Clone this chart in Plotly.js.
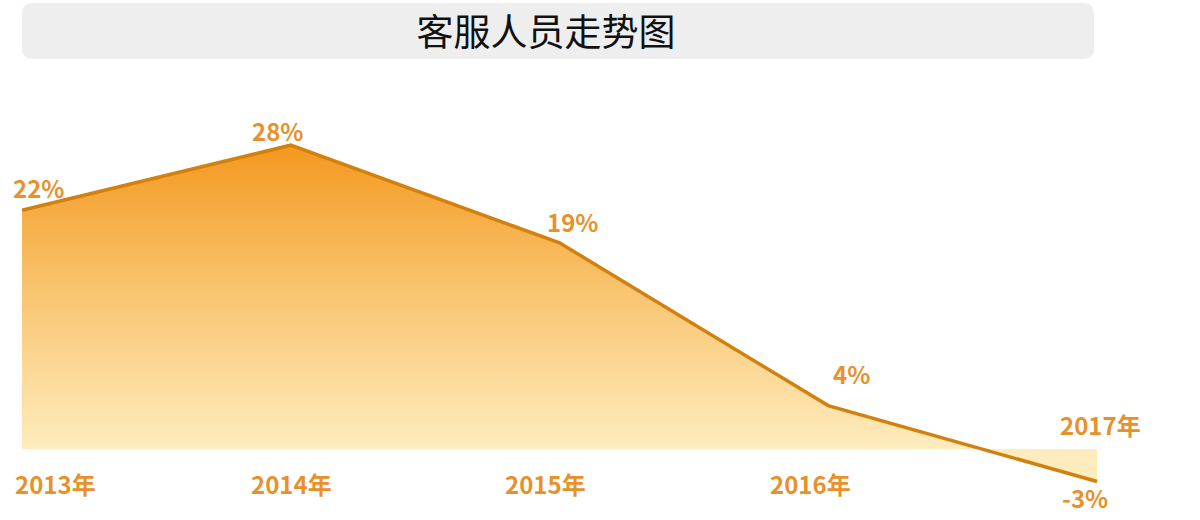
<!DOCTYPE html>
<html>
<head>
<meta charset="utf-8">
<script src="https://cdn.plot.ly/plotly-3.0.1.min.js"></script>
<style>html,body{margin:0;padding:0;background:#fff;}#chart{width:1200px;height:520px;}</style>
</head>
<body>
<div id="chart"></div>
<script>
// Data
const years = ['2013年', '2014年', '2015年', '2016年', '2017年'];
const growth = [22, 28, 19, 4, -3];
const valueLabels = ['22%', '28%', '19%', '4%', '-3%'];
const chartTitle = '客服人员走势图';

// Label offsets (styling, pixels)
const valueDX = [16, -13, 13, 23, -12];
const valueDY = [23, 15, 21, 32, -16];
const yearDX = [33, 1, -14, -18, 3];
const yearDY = [-34, -34, -34, -34, 25];

const W = 1200, H = 520;
const labelColor = '#E8912A';
const labelFont = {family: 'Noto Sans CJK SC, Noto Sans, sans-serif', size: 24, color: labelColor, weight: 'bold'};

const trace = {
  x: years,
  y: growth,
  type: 'scatter',
  mode: 'lines',
  line: {color: '#D2810F', width: 3.5},
  fill: 'tozeroy',
  fillgradient: {
    type: 'vertical',
    start: 0,
    stop: Math.max(...growth),
    colorscale: [[0, '#FEECBD'], [0.5, '#F9C673'], [1, '#F4981F']]
  },
  hoverinfo: 'skip',
  cliponaxis: false
};

const annotations = [];
years.forEach((yr, i) => {
  annotations.push({
    x: yr, y: growth[i], xref: 'x', yref: 'y',
    text: valueLabels[i], showarrow: false,
    xshift: valueDX[i], yshift: valueDY[i],
    font: labelFont, xanchor: 'center', yanchor: 'middle'
  });
  annotations.push({
    x: yr, y: 0, xref: 'x', yref: 'y',
    text: yr, showarrow: false,
    xshift: yearDX[i], yshift: yearDY[i],
    font: labelFont, xanchor: 'center', yanchor: 'middle'
  });
});

// rounded title box in paper coords
function px(x) { return x / W; }
function py(y) { return 1 - y / H; }
const bx0 = 22, bx1 = 1094, by0 = 3, by1 = 59, r = 11;
const boxPath = [
  `M${px(bx0 + r)},${py(by0)}`,
  `L${px(bx1 - r)},${py(by0)}`,
  `Q${px(bx1)},${py(by0)} ${px(bx1)},${py(by0 + r)}`,
  `L${px(bx1)},${py(by1 - r)}`,
  `Q${px(bx1)},${py(by1)} ${px(bx1 - r)},${py(by1)}`,
  `L${px(bx0 + r)},${py(by1)}`,
  `Q${px(bx0)},${py(by1)} ${px(bx0)},${py(by1 - r)}`,
  `L${px(bx0)},${py(by0 + r)}`,
  `Q${px(bx0)},${py(by0)} ${px(bx0 + r)},${py(by0)}`,
  'Z'
].join(' ');

// axis ranges so that first point at x=22px, last at 1097px, zero at y=449px
const step = (1097 - 22) / (years.length - 1);
const yScale = 10.85;

const layout = {
  width: W, height: H,
  margin: {l: 0, r: 0, t: 0, b: 0, pad: 0},
  paper_bgcolor: '#ffffff',
  plot_bgcolor: 'rgba(0,0,0,0)',
  showlegend: false,
  title: {
    text: chartTitle,
    x: 546 / W, xanchor: 'center',
    y: 1 - 33 / H, yanchor: 'middle',
    xref: 'paper', yref: 'container',
    font: {family: 'Noto Sans CJK SC, sans-serif', size: 37, color: '#111111'}
  },
  xaxis: {
    type: 'category',
    range: [-22 / step, (years.length - 1) + (W - 1097) / step],
    showgrid: false, zeroline: false, showline: false, showticklabels: false, ticks: '',
    fixedrange: true
  },
  yaxis: {
    range: [-(H - 449) / yScale, 449 / yScale],
    showgrid: false, zeroline: false, showline: false, showticklabels: false, ticks: '',
    fixedrange: true
  },
  shapes: [{
    type: 'path', xref: 'paper', yref: 'paper', layer: 'below',
    path: boxPath, fillcolor: '#EEEEEE', line: {width: 0}
  }],
  annotations: annotations
};

Plotly.newPlot('chart', [trace], layout, {displayModeBar: false, staticPlot: true});
</script>
</body>
</html>
